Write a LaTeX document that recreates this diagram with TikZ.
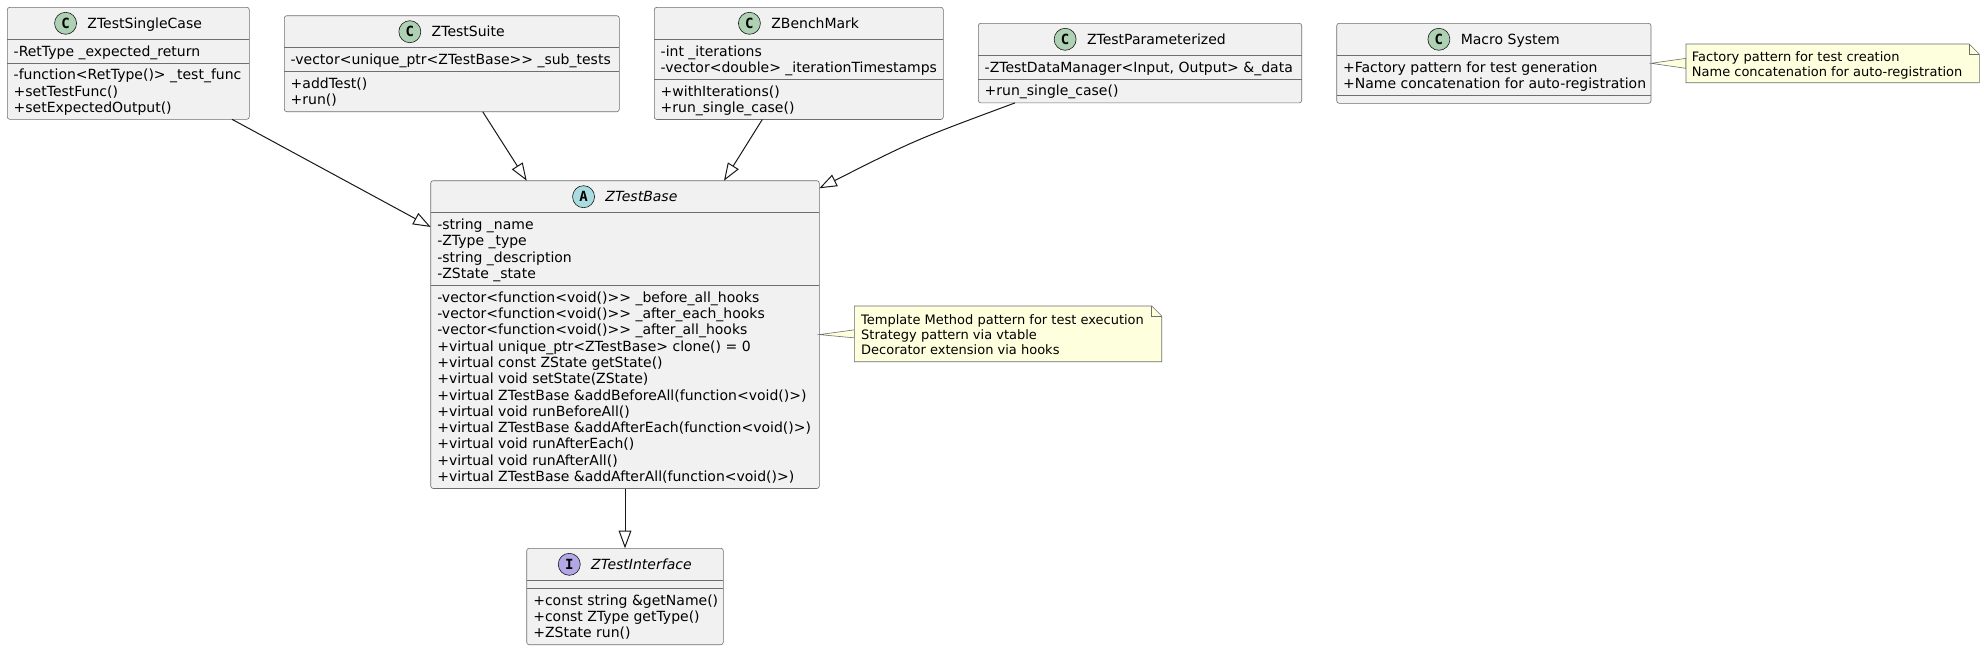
\documentclass[tikz,border=0pt]{standalone}
\usepackage{fontspec}
\setmainfont{DejaVu Sans}
\newfontfamily\spotfont{DejaVu Sans Mono}
\usetikzlibrary{arrows.meta,calc}
\definecolor{bdr}{HTML}{181818}
\definecolor{boxline}{HTML}{6E6E6E}
\definecolor{boxbg}{HTML}{F1F1F1}
\definecolor{notebg}{HTML}{FEFFDD}
\definecolor{spotC}{HTML}{ADD1B2}
\definecolor{spotA}{HTML}{A9DCDF}
\definecolor{spotI}{HTML}{B4A7E5}
\tikzset{
  umlbox/.style={draw=boxline, fill=boxbg, line width=0.6pt, rounded corners=2.5pt, inner sep=0pt, outer sep=0pt, anchor=north west},
  sepline/.style={draw=boxline, line width=0.6pt},
  mem/.style={anchor=base west, inner sep=0pt, font=\fontsize{14}{16}\selectfont, text=black},
  cname/.style={anchor=base, inner sep=0pt, font=\fontsize{14}{16}\selectfont, text=black},
  spot/.style={circle, draw=bdr, line width=0.6pt, minimum size=22pt, inner sep=0pt, font=\spotfont\bfseries\fontsize{14}{16}\selectfont, text=black},
  ext/.style={draw=bdr, line width=1pt, -{Triangle[open, length=17.6pt, width=12.7pt]}},
  noteframe/.style={minimum width=#1, inner sep=0pt, outer sep=0pt, anchor=north west},
  notebox/.style={draw=boxline, fill=notebg, line width=0.6pt},
  notetxt/.style={anchor=base west, inner sep=0pt, font=\fontsize{13}{15}\selectfont, text=black},
}
\newcommand\umlmembers[3]{\foreach \t [count=\i from 0] in {#3} {\node[mem] at (#1, {#2+\i*16.3}) {\t};}}
\newcommand\umlsep[2]{\draw[sepline] (#1.west |- 0,#2) -- (#1.east |- 0,#2);}
\newcommand\umlnote[1]{%
  \path[notebox] (#1.north west) -- ([xshift=-10pt]#1.north east) -- ([yshift=-10pt]#1.north east) -- (#1.south east) -- (#1.south west) -- cycle;
  \draw[boxline, line width=0.6pt] ([xshift=-10pt]#1.north east) -- ([xshift=-10pt,yshift=-10pt]#1.north east) -- ([yshift=-10pt]#1.north east);}
\begin{document}
\begin{tikzpicture}[x=1pt, y=-1pt]
\useasboundingbox[fill=white] (0,0) rectangle (1984,651);

% ---------- ZTestSingleCase
\node[umlbox, minimum width=242pt, minimum height=112pt] (sc) at (7.3,7.3) {};
\umlsep{sc}{39.3}\umlsep{sc}{63.1}
\node[cname] (scn) at (144.7,28.3) {ZTestSingleCase};
\node[spot, fill=spotC] at ([xshift=-21.7pt,yshift=5pt]scn.base west) {C};
\umlmembers{13.5}{56.1}{-RetType \_expected\_return}
\umlmembers{13.5}{79.9}{-function<RetType()> \_test\_func, +setTestFunc(), +setExpectedOutput()}

% ---------- ZTestSuite
\node[umlbox, minimum width=335pt, minimum height=96pt] (suite) at (284.3,15.7) {};
\umlsep{suite}{47.7}\umlsep{suite}{71.5}
\node[cname] (suiten) at (468.2,36.7) {ZTestSuite};
\node[spot, fill=spotC] at ([xshift=-21.7pt,yshift=5pt]suiten.base west) {C};
\umlmembers{290.5}{64.5}{-vector<unique\_ptr<ZTestBase>{}> \_sub\_tests}
\umlmembers{290.5}{88.3}{+addTest(), +run()}

% ---------- ZBenchMark
\node[umlbox, minimum width=289pt, minimum height=112.2pt] (bench) at (654.3,7.3) {};
\umlsep{bench}{39.3}\umlsep{bench}{79.4}
\node[cname] (benchn) at (815.2,28.3) {ZBenchMark};
\node[spot, fill=spotC] at ([xshift=-21.7pt,yshift=5pt]benchn.base west) {C};
\umlmembers{660.5}{56.1}{-int \_iterations, -vector<double> \_iterationTimestamps}
\umlmembers{660.5}{96.2}{+withIterations(), +run\_single\_case()}

% ---------- ZTestParameterized
\node[umlbox, minimum width=323.4pt, minimum height=79.6pt] (param) at (978.3,23.3) {};
\umlsep{param}{55.3}\umlsep{param}{79.1}
\node[cname] (paramn) at (1156.4,44.3) {ZTestParameterized};
\node[spot, fill=spotC] at ([xshift=-21.7pt,yshift=5pt]paramn.base west) {C};
\umlmembers{984.5}{72.1}{{-ZTestDataManager<Input, Output> \&\_data}}
\umlmembers{984.5}{95.9}{+run\_single\_case()}

% ---------- Macro System
\node[umlbox, minimum width=314.3pt, minimum height=80pt] (macro) at (1336.7,23.3) {};
\umlsep{macro}{55.3}\umlsep{macro}{95.4}
\node[cname] (macron) at (1510.3,44.3) {Macro System};
\node[spot, fill=spotC] at ([xshift=-21.7pt,yshift=5pt]macron.base west) {C};
\umlmembers{1342.9}{72.1}{+Factory pattern for test generation, +Name concatenation for auto-registration}

% ---------- ZTestBase
\node[umlbox, minimum width=388.6pt, minimum height=307.8pt] (base) at (430.7,180.7) {};
\umlsep{base}{212.7}\umlsep{base}{285.4}
\node[cname, font=\fontsize{14}{16}\selectfont\itshape] (basen) at (641.4,201.7) {ZTestBase};
\node[spot, fill=spotA] at ([xshift=-21.7pt,yshift=5pt]basen.base west) {A};
\umlmembers{437.1}{229.5}{-string \_name, -ZType \_type, -string \_description, -ZState \_state}
\umlmembers{437.1}{302.2}{-vector<function<void()>{}> \_before\_all\_hooks,
  -vector<function<void()>{}> \_after\_each\_hooks,
  -vector<function<void()>{}> \_after\_all\_hooks,
  +virtual unique\_ptr<ZTestBase> clone() = 0,
  +virtual const ZState getState(),
  +virtual void setState(ZState),
  +virtual ZTestBase \&addBeforeAll(function<void()>),
  +virtual void runBeforeAll(),
  +virtual ZTestBase \&addAfterEach(function<void()>),
  +virtual void runAfterEach(),
  +virtual void runAfterAll(),
  +virtual ZTestBase \&addAfterAll(function<void()>)}

% ---------- ZTestInterface
\node[umlbox, minimum width=196.6pt, minimum height=96.4pt] (iface) at (526.7,548.3) {};
\umlsep{iface}{580.3}\umlsep{iface}{588.3}
\node[cname, font=\fontsize{14}{16}\selectfont\itshape] (ifacen) at (641.4,569.3) {ZTestInterface};
\node[spot, fill=spotI] at ([xshift=-21.7pt,yshift=5pt]ifacen.base west) {I};
\umlmembers{533.1}{605.1}{+const string \&getName(), +const ZType getType(), +ZState run()}

% ---------- notes
\node[noteframe=307.4pt, minimum height=55.7pt] (note1) at (854.3,306) {};
\node[noteframe=293.3pt, minimum height=38.7pt] (note2) at (1686,44) {};
\path[notebox] (base.east) -- ([yshift=4pt]note1.west) -- ([yshift=-4pt]note1.west) -- cycle;
\path[notebox] (macro.east) -- ([yshift=5pt]note2.west) -- ([yshift=-5pt]note2.west) -- cycle;
\umlnote{note1}
\umlnote{note2}
\node[notetxt] at (861,324.6) {Template Method pattern for test execution};
\node[notetxt] at (861,339.7) {Strategy pattern via vtable};
\node[notetxt] at (861,354.8) {Decorator extension via hooks};
\node[notetxt] at (1691.7,61.3) {Factory pattern for test creation};
\node[notetxt] at (1691.7,76.4) {Name concatenation for auto-registration};

% ---------- connectors
\draw[ext] ([xshift=103.7pt]sc.south) -- ([yshift=107.6pt]base.west);
\draw[ext] ([xshift=30.9pt]suite.south) -- ([xshift=-98.3pt]base.north);
\draw[ext] ([xshift=-36.5pt]bench.south) -- ([xshift=99pt]base.north);
\draw[ext] ([xshift=-125pt]param.south) .. controls (915,140) .. ([yshift=-7.6pt]base.north east);
\draw[ext] (base.south) -- (iface.north);
\end{tikzpicture}
\end{document}
